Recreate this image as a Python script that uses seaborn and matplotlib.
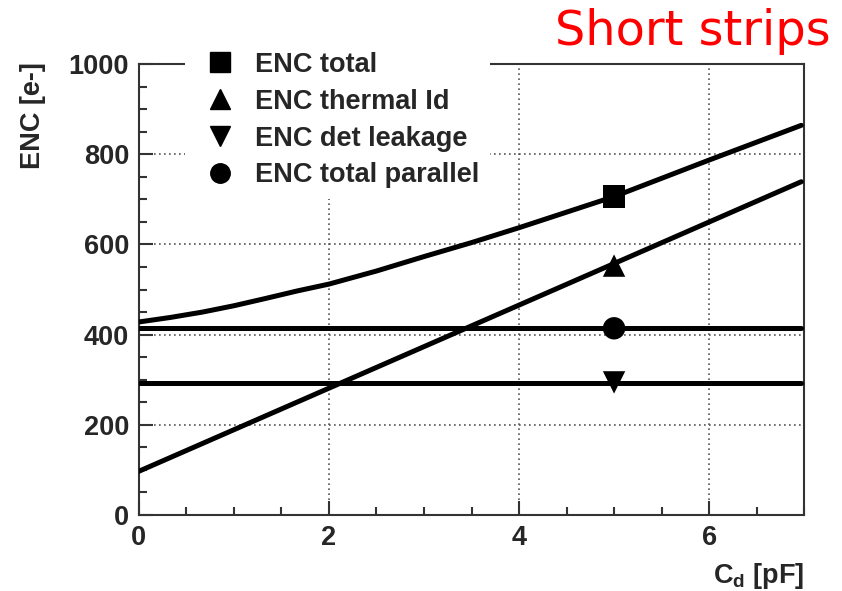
import matplotlib
matplotlib.use("Agg")
import matplotlib.pyplot as plt
from matplotlib.ticker import MultipleLocator
from matplotlib.lines import Line2D
import pandas as pd
import seaborn as sns

# Detector capacitance C_d (pF) and noise contributions ENC (electrons)
cd_total = [0.0, 0.33, 0.67, 1.0, 1.33, 1.67, 2.0, 2.5, 3.0, 3.5, 4.0, 5.0, 6.0, 6.97]
enc_total = [428, 438, 450, 464, 480, 497, 512, 541, 573, 604, 637, 706, 787, 864]

cd_thermal = [0.0, 6.97]
enc_thermal = [97, 739]

cd_flat = [0.0, 6.97]
enc_parallel = [414, 414]
enc_leakage = [293, 293]

# Series markers placed at C_d = 5 pF
marker_labels = ["ENC total", "ENC thermal Id", "ENC det leakage", "ENC total parallel"]
marker_values = [706, 553, 294, 414]
marker_shapes = ["s", "^", "v", "o"]
marker_cd = [5.0, 5.0, 5.0, 5.0]

sns.set_style("ticks")
plt.rcParams["font.family"] = ["Liberation Sans", "DejaVu Sans"]
plt.rcParams["font.weight"] = "bold"
plt.rcParams["mathtext.fontset"] = "custom"
plt.rcParams["mathtext.rm"] = "Liberation Sans:bold"
plt.rcParams["mathtext.it"] = "Liberation Sans:bold"
plt.rcParams["mathtext.bf"] = "Liberation Sans:bold"

fig = plt.figure(figsize=(8.42, 5.91), dpi=100)
ax = fig.add_axes([0.165, 0.1286, 0.790, 0.7631])

lw = 3.6
for xs, ys in [(cd_total, enc_total), (cd_thermal, enc_thermal),
               (cd_flat, enc_parallel), (cd_flat, enc_leakage)]:
    sns.lineplot(x=xs, y=ys, ax=ax, color="black", linewidth=lw,
                 legend=False, zorder=3)

markers = pd.DataFrame({"cd": marker_cd, "enc": marker_values, "label": marker_labels})
sns.scatterplot(data=markers, x="cd", y="enc", style="label",
                markers=dict(zip(marker_labels, marker_shapes)),
                color="black", s=260, linewidth=0, legend=False, ax=ax, zorder=4)

ax.set_xlim(0, 7)
ax.set_ylim(0, 1000)
ax.xaxis.set_major_locator(MultipleLocator(2))
ax.xaxis.set_minor_locator(MultipleLocator(0.5))
ax.yaxis.set_major_locator(MultipleLocator(200))
ax.yaxis.set_minor_locator(MultipleLocator(50))
ax.tick_params(which="both", direction="in", top=False, right=False,
               color="#333333", width=1.5)
ax.tick_params(which="major", length=10, labelsize=19.5, pad=7)
ax.tick_params(which="minor", length=5.5)
ax.set_xlabel("")
ax.set_ylabel("")
ax.grid(which="major", linestyle=(0, (1, 2)), color="#555555", linewidth=1.2)
for sp in ax.spines.values():
    sp.set_visible(True)
    sp.set_color("#333333")
    sp.set_linewidth(1.5)

handles = [Line2D([], [], linestyle="none", marker=m, color="black",
                  markersize=14) for m in marker_shapes]
leg = ax.legend(handles, marker_labels, loc="upper left",
                bbox_to_anchor=(0.069, 1.051), frameon=True, facecolor="white",
                edgecolor="none", framealpha=1, fancybox=False,
                prop={"weight": "bold", "size": 19.5}, handlelength=1.8,
                handletextpad=0.39, labelspacing=0.4, borderpad=0.4,
                borderaxespad=0)
leg.set_zorder(6)

fig.text(0.987, 0.924, "Short strips", color="#ff0000", fontsize=34.5,
         fontweight="normal", family="DejaVu Sans", ha="right", va="baseline")
fig.text(0.955, 0.0135, r"C$_\mathregular{d}$ [pF]", fontsize=19.5,
         fontweight="bold", ha="right", va="baseline")
fig.text(0.039, 0.804, "ENC [e-]", fontsize=19.5, fontweight="bold",
         rotation=90, ha="center", va="center")

fig.savefig("out.png", dpi=100)
